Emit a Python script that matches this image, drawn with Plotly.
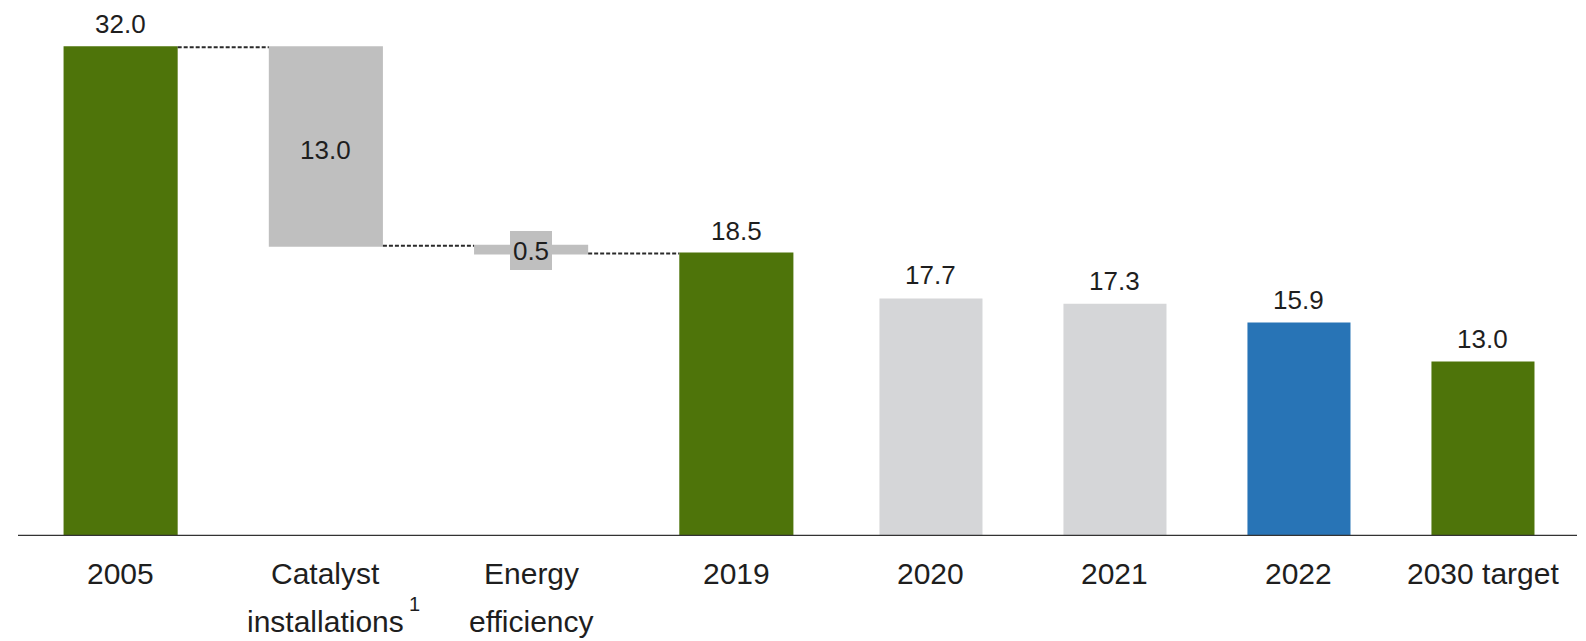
import plotly.graph_objects as go

# ---- data -------------------------------------------------------------
# Left panel: bridge from the 2005 baseline to 2019
left_categories = ["2005", "Catalyst installations", "Energy efficiency", "2019"]
left_label_lines = [["2005"], ["Catalyst", "installations"], ["Energy", "efficiency"], ["2019"]]
value_2005 = 32.0
reductions = [13.0, 0.5]          # catalyst installations, energy efficiency

# Right panel: recent years and the 2030 target
right_categories = ["2020", "2021", "2022", "2030 target"]
right_label_lines = [["2020"], ["2021"], ["2022"], ["2030 target"]]
right_values = [17.7, 17.3, 15.9, 13.0]

footnote_marker = "1"             # attached to "installations"

# ---- styling ----------------------------------------------------------
GREEN = "#4E740A"
MID_GRAY = "#BFBFBF"
LIGHT_GRAY = "#D5D6D8"
BLUE = "#2874B6"
TEXT = "#1E1E1E"
FONT = "Liberation Sans, Arial, sans-serif"
VALUE_SIZE = 26
TICK_SIZE = 30

value_2019 = value_2005 - sum(reductions)

fig = go.Figure()

fig.add_trace(go.Waterfall(
    x=left_categories,
    measure=["absolute", "relative", "relative", "total"],
    y=[value_2005, -reductions[0], -reductions[1], 0],
    width=0.556,
    totals=dict(marker=dict(color=GREEN, line=dict(width=0))),
    increasing=dict(marker=dict(color=GREEN, line=dict(width=0))),
    decreasing=dict(marker=dict(color=MID_GRAY, line=dict(width=0))),
    connector=dict(mode="between", line=dict(color="#2A2A2A", width=2, dash="4px,2px")),
    textposition="none",
    hoverinfo="skip",
    xaxis="x", yaxis="y",
))

fig.add_trace(go.Bar(
    x=right_categories,
    y=right_values,
    width=0.56,
    marker=dict(color=[LIGHT_GRAY, LIGHT_GRAY, BLUE, GREEN], line=dict(width=0)),
    hoverinfo="skip",
    xaxis="x2", yaxis="y2",
))

annotations = []


def value_label(xref, yref, idx, y, text, shift):
    # category axes: annotations are placed by category index
    annotations.append(dict(
        x=idx, y=y, xref=xref, yref=yref, text=text, showarrow=False,
        xanchor="center", yanchor="middle", yshift=shift,
        font=dict(family=FONT, size=VALUE_SIZE, color=TEXT),
    ))


# values above the totals
value_label("x", "y", 0, value_2005, f"{value_2005:.1f}", 23)
value_label("x", "y", 3, value_2019, f"{value_2019:.1f}", 23)
for i, v in enumerate(right_values):
    value_label("x2", "y2", i, v, f"{v:.1f}", 23)

# catalyst step: label centred inside the bar
value_label("x", "y", 1, value_2005 - reductions[0] / 2, f"{reductions[0]:.1f}", -3)

# energy efficiency step: thin bar, label on a grey tag
annotations.append(dict(
    x=2, y=value_2005 - reductions[0] - reductions[1] / 2,
    xref="x", yref="y", text=f"{reductions[1]:.1f}", showarrow=False,
    xanchor="center", yanchor="middle", yshift=-1,
    width=42, height=39, bgcolor=MID_GRAY, borderpad=0, borderwidth=0,
    font=dict(family=FONT, size=VALUE_SIZE, color=TEXT),
))

# category labels below the axis line
LINE_SHIFTS = [-37, -85]
for xref, yref, lines_list in (("x", "y", left_label_lines),
                               ("x2", "y2", right_label_lines)):
    for idx, lines in enumerate(lines_list):
        for i, line in enumerate(lines):
            annotations.append(dict(
                x=idx, y=0, xref=xref, yref=yref, text=line, showarrow=False,
                xanchor="center", yanchor="middle", yshift=LINE_SHIFTS[i],
                font=dict(family=FONT, size=TICK_SIZE, color=TEXT),
            ))

# footnote marker next to "installations"
annotations.append(dict(
    x=1, y=0, xref="x", yref="y", text=footnote_marker,
    showarrow=False, xanchor="center", yanchor="middle",
    xshift=89, yshift=-68,
    font=dict(family=FONT, size=20, color=TEXT),
))

axis_common = dict(showgrid=False, zeroline=False, showline=False,
                   showticklabels=False, ticks="", fixedrange=True)

fig.update_layout(
    width=1586, height=641,
    margin=dict(l=18, r=9, t=20, b=105),
    paper_bgcolor="white", plot_bgcolor="white",
    showlegend=False,
    font=dict(family=FONT, color=TEXT),
    xaxis=dict(domain=[0, 0.5266], anchor="y", type="category", range=[-0.5, 3.5], **axis_common),
    xaxis2=dict(domain=[0.5266, 0.9987], anchor="y2", type="category", range=[-0.5, 3.5], **axis_common),
    yaxis=dict(domain=[0, 1], anchor="x", range=[0, 516 / 15.27], **axis_common),
    yaxis2=dict(domain=[0, 1], anchor="x2", range=[0, 516 / 13.42], **axis_common),
    annotations=annotations,
    shapes=[dict(type="line", xref="paper", yref="y", x0=0, x1=1, y0=0, y1=0,
                 line=dict(color="#333333", width=2.5), layer="above")],
)

fig.write_html("out.html")
